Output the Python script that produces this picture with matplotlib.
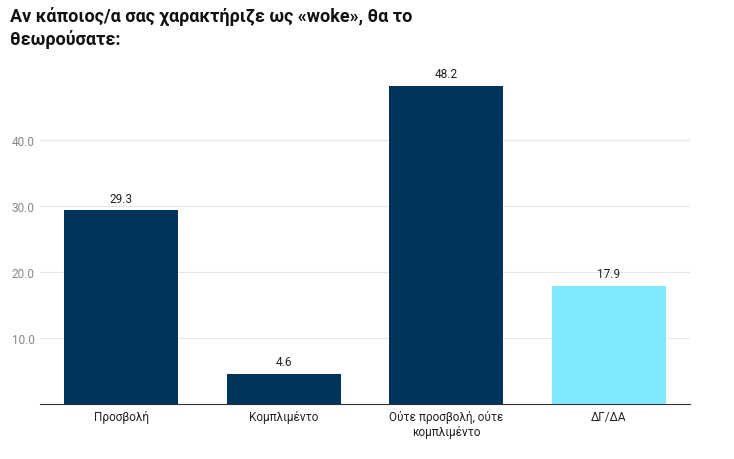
import matplotlib
matplotlib.use("Agg")
import matplotlib.pyplot as plt

categories = ["Προσβολή", "Κομπλιμέντο", "Ούτε προσβολή, ούτε\nκομπλιμέντο", "ΔΓ/ΔΑ"]
values = [29.3, 4.6, 48.2, 17.9]
colors = ["#00345a", "#00345a", "#00345a", "#7fe9fd"]
yticks = [10.0, 20.0, 30.0, 40.0]

plt.rcParams['font.family'] = ['Roboto', 'DejaVu Sans']
fig = plt.figure(figsize=(7.34, 4.6), dpi=100)
ax = fig.add_axes([0.0545, 0.1196, 0.8855, 0.711])
x = range(len(categories))
bars = ax.bar(x, values, width=0.70, color=colors, zorder=3)
for i, v in enumerate(values):
    ax.text(i, v + 0.8, f"{v:.1f}", ha="center", va="bottom", fontsize=8.5, color="#222222")
ax.set_xlim(-0.5, 3.5)
ax.set_ylim(0, 49.5)
ax.set_yticks(yticks)
ax.set_yticklabels([f"{t:.1f}" for t in yticks], color="#888888", fontsize=8.5)
ax.set_xticks(list(x))
ax.set_xticklabels(categories, fontsize=8.5, color="#222222")
ax.grid(axis="y", color="#e6e6e6", linewidth=0.8, zorder=0)
for s in ["top", "right", "left"]:
    ax.spines[s].set_visible(False)
ax.spines["bottom"].set_color("#333333")
ax.tick_params(axis="both", length=0, pad=4)
fig.text(0.0136, 0.985, "Αν κάποιος/α σας χαρακτήριζε ως «woke», θα το\nθεωρούσατε:",
         ha="left", va="top", fontsize=13, fontweight="bold", color="#111111", linespacing=1.25)
fig.savefig("out.png", dpi=100)
